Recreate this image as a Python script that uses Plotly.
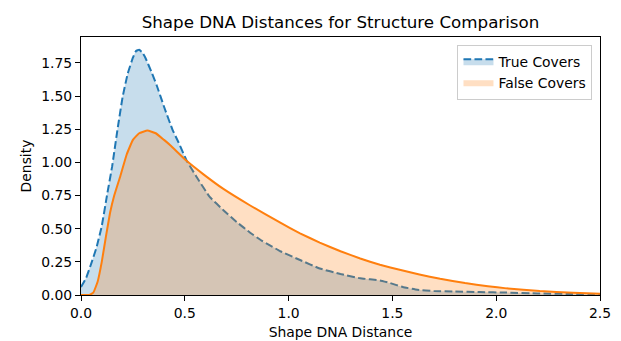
import plotly.graph_objects as go

# ---- data ----
true_x = [0.00, 0.025, 0.05, 0.075, 0.10, 0.125, 0.15, 0.175, 0.20, 0.225, 0.25, 0.265, 0.28, 0.295,
          0.31, 0.34, 0.365, 0.40, 0.44, 0.47, 0.51, 0.557, 0.62, 0.686, 0.75, 0.815, 0.87, 0.91, 0.96,
          1.055, 1.15, 1.25, 1.345, 1.44, 1.49, 1.55, 1.62, 1.70, 1.80, 1.92, 2.05,
          2.20, 2.35, 2.50]
true_y = [0.06, 0.13, 0.24, 0.36, 0.52, 0.75, 0.97, 1.24, 1.49, 1.67, 1.79, 1.84, 1.85, 1.83,
          1.79, 1.68, 1.58, 1.42, 1.25, 1.15, 1.01, 0.89, 0.74, 0.64, 0.55, 0.47, 0.41, 0.375, 0.33,
          0.264, 0.20, 0.158, 0.126, 0.11, 0.09, 0.06, 0.04, 0.03, 0.027, 0.022, 0.018,
          0.012, 0.008, 0.005]

false_x = [0.00, 0.04, 0.06, 0.08, 0.10, 0.12, 0.14, 0.16, 0.19, 0.22, 0.25, 0.28, 0.32, 0.36,
           0.40, 0.43, 0.51, 0.59, 0.686, 0.815, 0.96, 1.055, 1.15, 1.25, 1.345, 1.44, 1.54,
           1.63, 1.73, 1.85, 1.96, 2.05, 2.21, 2.37, 2.50]
false_y = [0.00, 0.00, 0.02, 0.10, 0.25, 0.44, 0.62, 0.75, 0.90, 1.06, 1.17, 1.22, 1.24, 1.22,
           1.17, 1.13, 1.01, 0.91, 0.80, 0.675, 0.545, 0.465, 0.395, 0.33, 0.275, 0.228, 0.188,
           0.155, 0.122, 0.09, 0.066, 0.05, 0.03, 0.017, 0.01]

x_ticks = [0.0, 0.5, 1.0, 1.5, 2.0, 2.5]
y_ticks = [0.00, 0.25, 0.50, 0.75, 1.00, 1.25, 1.50, 1.75]

BLUE = "#1f77b4"
ORANGE = "#ff7f0e"
FONT = "DejaVu Sans"

fig = go.Figure()
fig.add_trace(go.Scatter(x=true_x, y=true_y, mode="lines", fill="tozeroy",
                         fillcolor="rgba(31,119,180,0.25)",
                         line=dict(color=BLUE, width=2, dash="7.7px,3.3px", shape="spline", smoothing=0.3),
                         name="True Covers"))
fig.add_trace(go.Scatter(x=false_x, y=false_y, mode="lines", fill="tozeroy",
                         fillcolor="rgba(255,127,14,0.25)",
                         line=dict(color="rgba(0,0,0,0)", width=0, shape="spline", smoothing=0.3),
                         name="False Covers"))
fig.add_trace(go.Scatter(x=false_x, y=false_y, mode="lines",
                         line=dict(color=ORANGE, width=2, shape="spline", smoothing=0.3),
                         showlegend=False, hoverinfo="skip"))

axis_common = dict(showgrid=False, zeroline=False, showline=True, linecolor="black", linewidth=1,
                   mirror=True, ticks="outside", ticklen=5, tickwidth=1, tickcolor="black",
                   automargin=False,
                   tickfont=dict(family=FONT, size=13.9, color="black"))

fig.update_layout(
    width=621, height=341,
    margin=dict(l=81, r=21, t=37, b=46, autoexpand=False),
    paper_bgcolor="white", plot_bgcolor="white",
    title=dict(text="Shape DNA Distances for Structure Comparison", x=0.5, xref="paper",
               xanchor="center", y=0.935, yanchor="middle",
               font=dict(family=FONT, size=16.7, color="black")),
    xaxis=dict(range=[0, 2.5], tickvals=x_ticks, ticktext=[f"{v:.1f}" for v in x_ticks],
               title=dict(text="Shape DNA Distance", font=dict(family=FONT, size=13.9, color="black"),
                          standoff=7),
               **axis_common),
    yaxis=dict(range=[0, 1.946], tickvals=y_ticks, ticktext=[f"{v:.2f}" for v in y_ticks],
               title=dict(text="Density", font=dict(family=FONT, size=13.9, color="black"),
                          standoff=6),
               **axis_common),
    legend=dict(x=0.9855, y=0.97, xanchor="right", yanchor="top",
                bgcolor="rgba(255,255,255,0.8)", bordercolor="#cccccc", borderwidth=1,
                font=dict(family=FONT, size=13.9, color="black"),
                tracegroupgap=0, itemwidth=30),
    showlegend=True,
)

fig.write_html("out.html")
